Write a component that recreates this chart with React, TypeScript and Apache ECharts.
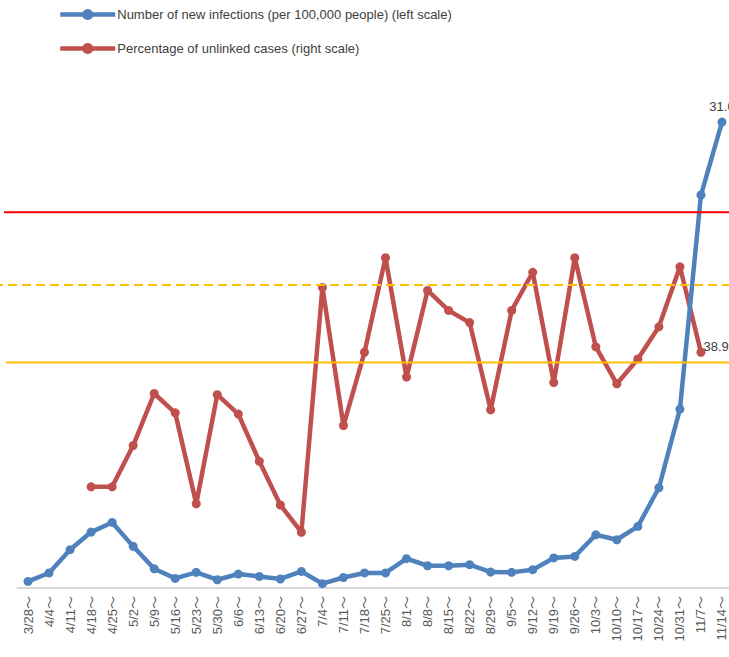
import React, { useEffect, useRef } from "react";
import * as echarts from "echarts";

const categories = [
  "3/28～", "4/4～", "4/11～", "4/18～", "4/25～", "5/2～", "5/9～", "5/16～", "5/23～", "5/30～",
  "6/6～", "6/13～", "6/20～", "6/27～", "7/4～", "7/11～", "7/18～", "7/25～", "8/1～", "8/8～",
  "8/15～", "8/22～", "8/29～", "9/5～", "9/12～", "9/19～", "9/26～", "10/3～", "10/10～", "10/17～",
  "10/24～", "10/31～", "11/7～", "11/14～",
];

const newInfections = [
  0.44, 1.0, 2.55, 3.72, 4.36, 2.77, 1.28, 0.64, 1.04, 0.55,
  0.93, 0.77, 0.6, 1.1, 0.29, 0.7, 1.0, 1.0, 1.95, 1.48,
  1.48, 1.55, 1.06, 1.04, 1.22, 2.0, 2.1, 3.54, 3.21, 4.1,
  6.67, 11.9, 26.15, 31.0,
];

const unlinkedPct: (number | null)[] = [
  null, null, null, 16.7, 16.7, 23.5, 32.1, 28.9, 13.9, 31.9,
  28.7, 20.9, 13.7, 9.2, 49.6, 26.8, 38.9, 54.5, 34.8, 49.1,
  45.8, 43.8, 29.4, 45.8, 52.1, 33.9, 54.5, 39.8, 33.7, 37.8,
  43.1, 53.0, 38.9, null,
];

const seriesNames = [
  "Number of new infections (per 100,000 people) (left scale)",
  "Percentage of unlinked cases (right scale)",
];

const infectionThresholds = [25, 15];
const unlinkedThreshold = 50;

const BLUE = "#4F81BD";
const RED = "#C0504D";

export default function App() {
  const ref = useRef<HTMLDivElement>(null);
  useEffect(() => {
    if (!ref.current) return;
    const chart = echarts.init(ref.current, null, { renderer: "svg" });
    const lastBlue = newInfections.length - 1;
    let lastRed = -1;
    unlinkedPct.forEach((v, i) => {
      if (v !== null) lastRed = i;
    });
    const font = "'Liberation Sans', Arial, 'Noto Sans CJK JP', sans-serif";
    chart.setOption({
      animation: false,
      textStyle: { fontFamily: font },
      legend: {
        orient: "vertical",
        left: 53,
        top: 3,
        padding: 5,
        itemWidth: 55,
        itemHeight: 14,
        itemGap: 21,
        lineStyle: { width: 4.5 },
        textStyle: { fontSize: 13, color: "#404040", fontFamily: font, padding: [0, 0, 0, -3] },
        data: seriesNames,
      },
      grid: { left: 17.5, width: 715, top: 62, bottom: 69 },
      xAxis: {
        type: "category",
        data: categories,
        boundaryGap: true,
        axisTick: { show: false },
        axisLine: { lineStyle: { color: "#d9d9d9", width: 2 } },
        axisLabel: {
          rotate: 90,
          interval: 0,
          fontSize: 13,
          color: "#595959",
          margin: 8,
          fontFamily: font,
        },
      },
      yAxis: [
        { type: "value", min: 0, max: 35, show: false, splitLine: { show: false } },
        { type: "value", min: 0, max: 86.8, show: false, splitLine: { show: false } },
      ],
      series: [
        {
          name: seriesNames[0],
          type: "line",
          yAxisIndex: 0,
          data: newInfections.map((v, i) =>
            i === lastBlue
              ? {
                  value: v,
                  label: {
                    show: true,
                    position: "top",
                    distance: 5,
                    fontSize: 13,
                    color: "#404040",
                    formatter: (p: any) => Number(p.value).toFixed(1),
                  },
                }
              : v
          ),
          symbol: "circle",
          symbolSize: 9,
          itemStyle: { color: BLUE },
          lineStyle: { color: BLUE, width: 4.5 },
          z: 3,
        },
        {
          name: seriesNames[1],
          type: "line",
          yAxisIndex: 1,
          data: unlinkedPct.map((v, i) =>
            i === lastRed
              ? {
                  value: v,
                  label: {
                    show: true,
                    position: "right",
                    distance: -2,
                    offset: [0, -6],
                    fontSize: 13,
                    color: "#404040",
                    formatter: (p: any) => Number(p.value).toFixed(1),
                  },
                }
              : v
          ),
          symbol: "circle",
          symbolSize: 9,
          itemStyle: { color: RED },
          lineStyle: { color: RED, width: 4.5 },
          z: 2,
        },
      ],
    });

    const yRed = chart.convertToPixel({ yAxisIndex: 0 }, infectionThresholds[0]) as number;
    const yOrange = chart.convertToPixel({ yAxisIndex: 0 }, infectionThresholds[1]) as number;
    const yDash = chart.convertToPixel({ yAxisIndex: 1 }, unlinkedThreshold) as number;
    chart.setOption({
      graphic: [
        {
          type: "line",
          z: 10,
          shape: { x1: 4, y1: yRed, x2: 760, y2: yRed },
          style: { stroke: "#FF0000", lineWidth: 2 },
        },
        {
          type: "line",
          z: 10,
          shape: { x1: 6, y1: yOrange, x2: 760, y2: yOrange },
          style: { stroke: "#FFC000", lineWidth: 2 },
        },
        {
          type: "line",
          z: 10,
          shape: { x1: 0, y1: yDash, x2: 760, y2: yDash },
          style: { stroke: "#FFC000", lineWidth: 2, lineDash: [9, 5], lineDashOffset: 5.7 },
        },
      ],
    });
    return () => chart.dispose();
  }, []);
  return (
    <div
      ref={ref}
      style={{ position: "fixed", left: 0, top: 0, width: 760, height: 657, background: "#fff" }}
    />
  );
}
